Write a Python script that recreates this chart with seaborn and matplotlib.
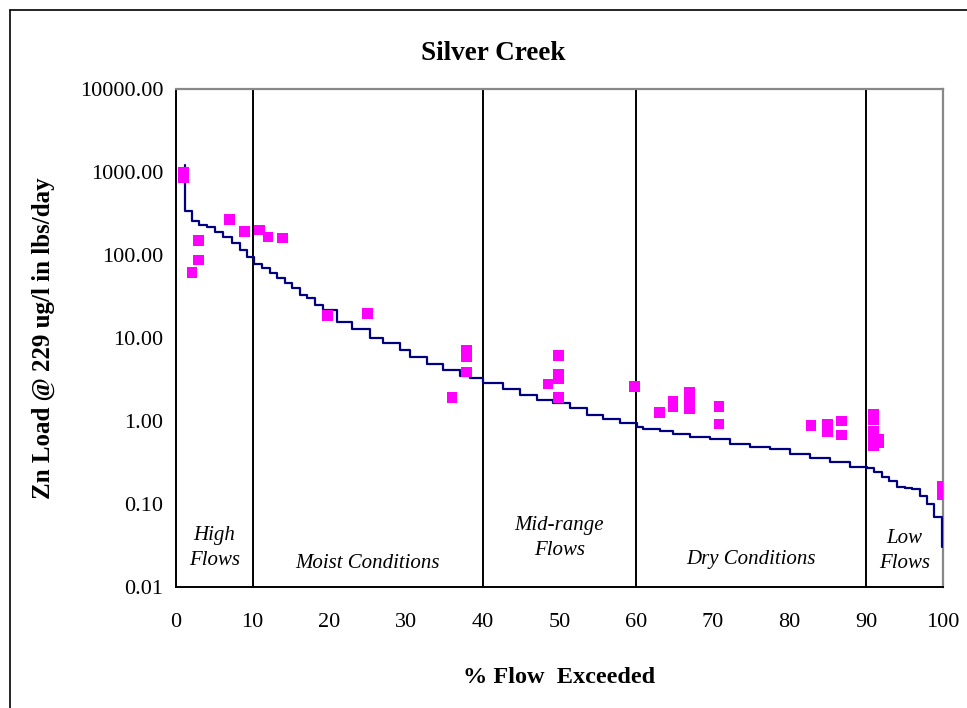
import matplotlib
matplotlib.use("Agg")
import matplotlib.pyplot as plt
import matplotlib.ticker as mticker
from matplotlib.lines import Line2D
import matplotlib.transforms as mtrans
import seaborn as sns
import pandas as pd

# Load duration curve (percent flow exceeded, load lbs/day)
curve_x = [1.2, 1.2, 2.1, 3.0, 4.0, 5.1, 6.1, 7.3, 8.3, 9.2, 10.2, 11.2, 12.3, 13.2,
           14.2, 15.1, 16.2, 17.1, 18.1, 19.2, 21.0, 23.0, 25.3, 27.0, 29.2, 30.5,
           32.7, 34.8, 37.0, 38.3, 40.0, 42.6, 44.9, 47.1, 49.2, 51.4, 53.6, 55.7,
           57.9, 60.1, 60.9, 63.1, 64.8, 67.0, 69.6, 72.2, 74.8, 77.4, 80.1, 82.7,
           85.3, 87.9, 90.1, 91.0, 92.0, 93.0, 94.0, 95.0, 96.0, 97.0, 97.9, 98.8,
           99.9, 99.9]
curve_y = [1200, 340, 260, 230, 215, 190, 165, 140, 115, 95, 78, 70, 60, 53,
           46, 40, 33, 30, 25, 22, 15.6, 12.7, 10.0, 8.8, 7.2, 5.9,
           4.9, 4.1, 3.5, 3.3, 2.87, 2.43, 2.06, 1.79, 1.65, 1.43, 1.18, 1.06,
           0.95, 0.85, 0.80, 0.76, 0.70, 0.64, 0.61, 0.53, 0.49, 0.46, 0.40, 0.36,
           0.32, 0.28, 0.27, 0.24, 0.21, 0.19, 0.16, 0.155, 0.15, 0.125, 0.10, 0.069,
           0.069, 0.03]

# Observed loads
obs_x = [1.0, 1.0, 2.1, 2.9, 2.9, 7.0, 8.9, 10.9, 12.0, 13.9, 19.8, 25.0, 36.0,
         37.9, 37.9, 37.9, 48.5, 49.9, 49.9, 49.9, 49.9, 59.8, 63.0, 64.8, 64.8,
         66.9, 66.9, 66.9, 66.9, 70.8, 70.8, 82.8, 84.9, 84.9, 86.8, 86.8,
         90.9, 90.9, 90.9, 90.9, 90.9, 91.6, 91.6, 99.9, 99.9]
obs_y = [1000, 850, 61, 87, 148, 270, 190, 200, 165, 160, 18.7, 19.6, 1.9,
         7.0, 6.0, 3.9, 2.8, 6.2, 3.6, 3.2, 1.9, 2.6, 1.27, 1.7, 1.5,
         2.2, 1.8, 1.6, 1.4, 1.5, 0.92, 0.88, 0.9, 0.75, 1.0, 0.68,
         1.2, 1.05, 0.75, 0.62, 0.5, 0.6, 0.55, 0.165, 0.13]

zone_bounds = [10, 40, 60, 90]
zone_labels = ["High\nFlows", "Moist Conditions", "Mid-range\nFlows", "Dry Conditions", "Low\nFlows"]
zone_label_x = [5, 25, 50, 75, 95]
zone_label_y = [0.078, 0.048, 0.098, 0.056, 0.072]

x_ticks = [0, 10, 20, 30, 40, 50, 60, 70, 80, 90, 100]
y_ticks = [0.01, 0.1, 1, 10, 100, 1000, 10000]

sns.set_theme(style="white")
serif = ["Liberation Serif", "DejaVu Serif"]
plt.rcParams["font.family"] = serif
plt.rcParams["text.color"] = "black"
plt.rcParams["axes.labelcolor"] = "black"
plt.rcParams["xtick.color"] = "black"
plt.rcParams["ytick.color"] = "black"

fig = plt.figure(figsize=(9.67, 7.08), dpi=100)
ax = fig.add_axes([176/967, 1-587/708, (943-176)/967, (587-89)/708])

curve = pd.DataFrame({"x": curve_x, "y": curve_y})
obs = pd.DataFrame({"x": obs_x, "y": obs_y})

sns.lineplot(data=curve, x="x", y="y", ax=ax, estimator=None, sort=False,
             drawstyle="steps-post", color="#000080", linewidth=1.6, zorder=3)
sns.scatterplot(data=obs, x="x", y="y", ax=ax, marker="s", s=60, color="#FF00FF",
                edgecolor="none", linewidth=0, zorder=4)

for b in zone_bounds:
    ax.axvline(b, color="black", linewidth=1.4, zorder=2)

trans = mtrans.blended_transform_factory(ax.transData, ax.transAxes)
for lbl, lx, ly in zip(zone_labels, zone_label_x, zone_label_y):
    ax.text(lx, ly, lbl, transform=trans, ha="center", va="center", style="italic",
            fontsize=15, linespacing=1.45, color="black")

ax.set_yscale("log")
ax.set_xlim(0, 100)
ax.set_ylim(0.01, 10000)
ax.set_xticks(x_ticks)
ax.set_yticks(y_ticks)
ax.yaxis.set_major_formatter(mticker.FuncFormatter(lambda v, p: f"{v:.2f}"))
ax.yaxis.set_minor_locator(mticker.NullLocator())
ax.tick_params(axis="both", which="major", direction="out", length=5, width=1.2,
               color="black", labelsize=16, labelcolor="black")
ax.tick_params(axis="x", pad=14)
ax.tick_params(axis="y", pad=4)

for s in ["left", "bottom"]:
    ax.spines[s].set_color("black")
    ax.spines[s].set_linewidth(1.4)
for s in ["top", "right"]:
    ax.spines[s].set_color("#888888")
    ax.spines[s].set_linewidth(1.6)

ax.set_xlabel("% Flow  Exceeded", fontsize=17.5, fontweight="bold", labelpad=25, color="black")
ax.set_ylabel("Zn Load @ 229 ug/l in lbs/day", fontsize=18, fontweight="bold", labelpad=18, color="black")
fig.text(493/967, 1-54/708, "Silver Creek", ha="center", va="center",
         fontsize=19.5, fontweight="bold", color="black")

# Outer chart frame (top and left edges visible)
fig.add_artist(Line2D([10/967, 1.0], [1-10/708, 1-10/708], color="black", linewidth=1.2,
                      transform=fig.transFigure))
fig.add_artist(Line2D([10/967, 10/967], [0, 1-10/708], color="black", linewidth=1.2,
                      transform=fig.transFigure))

fig.savefig("out.png", dpi=100, facecolor="white")
